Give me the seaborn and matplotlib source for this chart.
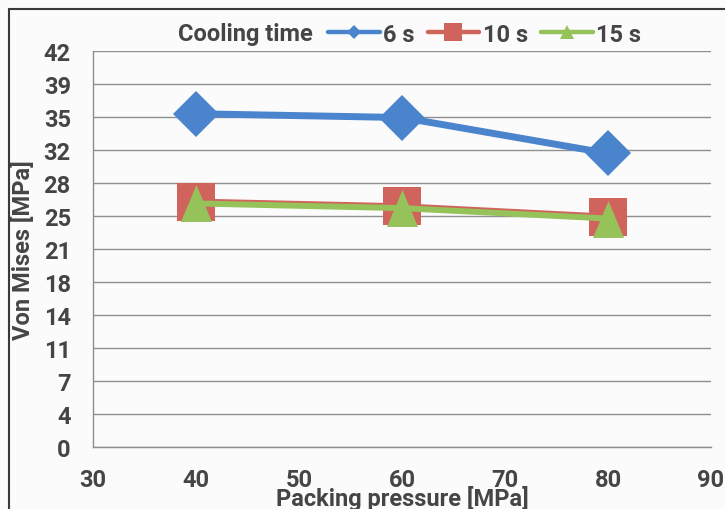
import numpy as np
import pandas as pd
import matplotlib
matplotlib.use("Agg")
import matplotlib.pyplot as plt
from matplotlib.lines import Line2D
from matplotlib.ticker import FixedLocator, FixedFormatter
import seaborn as sns

# ---- data ----
pressure = [40, 60, 80]
von_mises_6s = [35.3, 34.9, 31.1]
von_mises_10s = [26.0, 25.5, 24.4]
von_mises_15s = [25.8, 25.3, 24.2]
series_labels = ["6 s", "10 s", "15 s"]
x_ticks = [30, 40, 50, 60, 70, 80, 90]
y_ticks = [0, 3.5, 7, 10.5, 14, 17.5, 21, 24.5, 28, 31.5, 35, 38.5, 42]
y_tick_labels = ["0", "4", "7", "11", "14", "18", "21", "25", "28", "32", "35", "39", "42"]
legend_title = "Cooling time"
x_label = "Packing pressure [MPa]"
y_label = "Von Mises [MPa]"

df = pd.DataFrame({
    "pressure": pressure * 3,
    "vm": von_mises_6s + von_mises_10s + von_mises_15s,
    "series": [s for s in series_labels for _ in pressure],
})

sns.set_theme(style="white")
plt.rcParams["font.family"] = ["Roboto", "DejaVu Sans"]
FS = 17

colors = {"6 s": "#4a84cc", "10 s": "#d0645d", "15 s": "#96c25a"}
markers = {"6 s": "D", "10 s": "s", "15 s": "^"}
text_color = "#454545"
grid_color = "#8f8f8f"

fig = plt.figure(figsize=(7.25, 5.1), dpi=100, facecolor="#fbfbfb")
ax = fig.add_axes([93 / 725, 1 - 448 / 510, 618 / 725, (448 - 51.5) / 510])
ax.set_facecolor("none")

sns.lineplot(data=df, x="pressure", y="vm", hue="series", hue_order=series_labels,
             style="series", style_order=series_labels, markers=markers, dashes=False,
             palette=colors, legend=False, ax=ax)

tri = [(0, 1), (-0.84, -1), (0.84, -1), (0, 1)]
styles = [("D", 23, 5.0), ("s", 27.4, 4.3), (tri, 26.6, 4.3)]
for line, (mk, ms, lw), lab in zip(ax.lines, styles, series_labels):
    line.set_marker(mk)
    line.set_markersize(ms)
    line.set_linewidth(lw)
    line.set_markeredgewidth(0)
    line.set_markerfacecolor(colors[lab])
    line.set_markeredgecolor(colors[lab])
    line.set_solid_joinstyle("round")

ax.set_xlim(30, 90)
ax.set_ylim(0, 42)
ax.xaxis.set_major_locator(FixedLocator(x_ticks))
ax.yaxis.set_major_locator(FixedLocator(y_ticks))
ax.yaxis.set_major_formatter(FixedFormatter(y_tick_labels))
ax.yaxis.grid(True, color=grid_color, lw=1.0)
ax.xaxis.grid(False)
ax.set_axisbelow(True)
for s in ["top", "right"]:
    ax.spines[s].set_visible(False)
for s in ["left", "bottom"]:
    ax.spines[s].set_color(grid_color)
    ax.spines[s].set_linewidth(1.0)

ax.tick_params(axis="x", length=0, labelsize=FS, labelcolor=text_color, pad=15)
ax.tick_params(axis="y", length=0, labelsize=FS, labelcolor=text_color, pad=16)
for t in ax.get_xticklabels() + ax.get_yticklabels():
    t.set_fontweight("bold")

ax.set_xlabel(x_label, fontsize=FS, fontweight="bold", color=text_color)
ax.set_ylabel(y_label, fontsize=FS, fontweight="bold", color=text_color)
ax.xaxis.label.set_va("center")
ax.xaxis.set_label_coords(0.5, -0.127)
ax.yaxis.label.set_va("center")
ax.yaxis.label.set_ha("center")
ax.yaxis.set_label_coords(-0.113, 0.5)

# chart frame (top and left edges visible in the crop)
fig.add_artist(Line2D([9 / 725, 1], [1 - 10 / 510] * 2, transform=fig.transFigure,
                      color="#3a3a3a", lw=1.5))
fig.add_artist(Line2D([9 / 725] * 2, [0, 1 - 10 / 510], transform=fig.transFigure,
                      color="#3a3a3a", lw=1.5))

# legend
fig.text(178 / 725, 1 - 35 / 510, legend_title, ha="left", va="center",
         fontsize=FS, fontweight="bold", color=text_color)
leg_ms = {"6 s": ("D", 7.5), "10 s": ("s", 13), "15 s": ("^", 10)}
handles = [Line2D([], [], color=colors[l], lw=3.2, marker=leg_ms[l][0], ms=leg_ms[l][1],
                  mew=0, mfc=colors[l]) for l in series_labels]
leg = fig.legend(handles, series_labels, loc="center left",
                 bbox_to_anchor=(328 / 725, 1 - 35 / 510), ncol=3, frameon=False,
                 borderpad=0, borderaxespad=0, handlelength=2.2, handletextpad=0.13,
                 columnspacing=0.55, prop=dict(weight="bold", size=FS))
for t in leg.get_texts():
    t.set_color(text_color)

fig.savefig("out.png", dpi=100, facecolor=fig.get_facecolor())
